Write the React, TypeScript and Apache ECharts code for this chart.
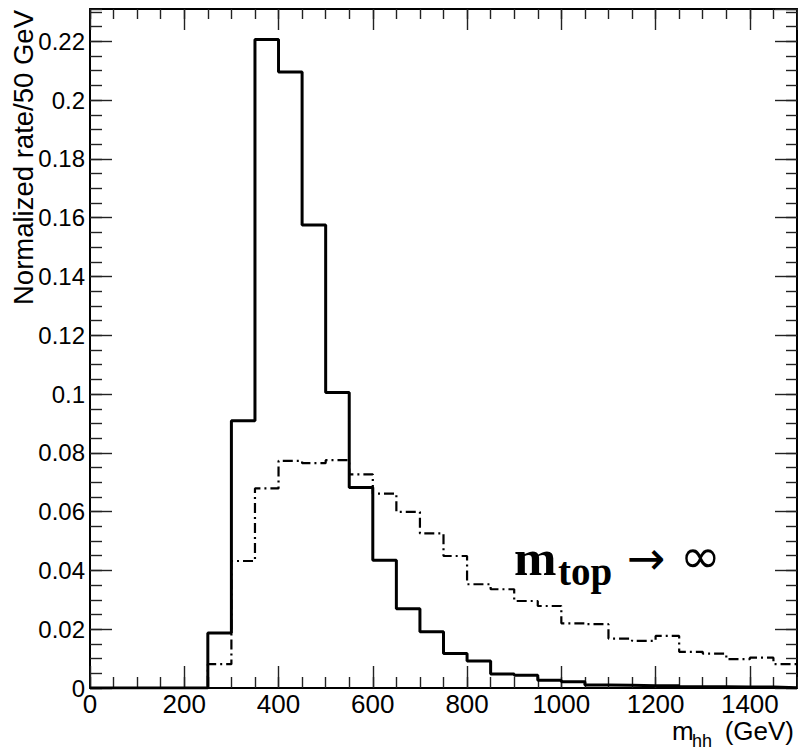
import React, { useEffect, useRef } from "react";
import * as echarts from "echarts";

// Lower edges of the 50 GeV bins (GeV)
const binLow = [
  0, 50, 100, 150, 200, 250, 300, 350, 400, 450, 500, 550, 600, 650, 700,
  750, 800, 850, 900, 950, 1000, 1050, 1100, 1150, 1200, 1250, 1300, 1350, 1400, 1450,
];
const binHigh = 1500;

// Solid histogram (full top-mass dependence)
const solidRate = [
  0, 0, 0, 0, 0, 0.0187, 0.0909, 0.2206, 0.2096, 0.1575, 0.1005, 0.0682, 0.0435, 0.027, 0.0191,
  0.0117, 0.0092, 0.0048, 0.0043, 0.0026, 0.0021, 0.001, 0.0009, 0.0008, 0.0008, 0.0004, 0.0004, 0.0003, 0.0003, 0.0001,
];

// Dash-dotted histogram (m_top -> infinity)
const infRate = [
  0, 0, 0, 0, 0, 0.0081, 0.0432, 0.0679, 0.0773, 0.0765, 0.0775, 0.0727, 0.0661, 0.0599, 0.0526,
  0.0449, 0.0353, 0.0336, 0.0296, 0.0279, 0.022, 0.0217, 0.0168, 0.016, 0.0177, 0.0123, 0.0117, 0.0098, 0.0103, 0.0081,
];

const xMin = 0;
const xMax = 1500;
const yMin = 0;
const yMax = 0.231;

function stepPoints(vals: number[]) {
  const pts: number[][] = binLow.map((x, i) => [x, vals[i]]);
  pts.push([binHigh, vals[vals.length - 1]]);
  return pts;
}

const FONT = '"Liberation Sans", Arial, sans-serif';
const SERIF = '"Liberation Serif", "DejaVu Serif", serif';
const TICK = "#222";

function xAxisDef(position: "bottom" | "top", interval: number, len: number, main: boolean) {
  return {
    type: "value",
    position,
    min: xMin,
    max: xMax,
    interval,
    axisLine: { show: main, onZero: false, lineStyle: { color: "#000", width: 2 } },
    axisTick: { show: true, inside: true, length: len, lineStyle: { color: TICK, width: 1.4 } },
    axisLabel: {
      show: main && position === "bottom",
      showMaxLabel: false,
      color: "#000",
      fontFamily: FONT,
      fontSize: 26,
      margin: 3,
      formatter: (v: number) => String(v),
    },
    splitLine: { show: false },
  };
}

function yAxisDef(position: "left" | "right", interval: number, len: number, main: boolean) {
  return {
    type: "value",
    position,
    min: yMin,
    max: yMax,
    interval,
    axisLine: { show: main, onZero: false, lineStyle: { color: "#000", width: 2 } },
    axisTick: { show: true, inside: true, length: len, lineStyle: { color: TICK, width: 1.4 } },
    axisLabel: {
      show: main && position === "left",
      showMaxLabel: false,
      color: "#000",
      fontFamily: FONT,
      fontSize: 24,
      margin: 5,
    },
    splitLine: { show: false },
  };
}

function txt(x: number, y: number, text: string, style: Record<string, any>) {
  return {
    type: "text",
    x,
    y,
    style: { text, fill: "#000", align: "left", verticalAlign: "middle", ...style },
  };
}

export default function App() {
  const ref = useRef<HTMLDivElement>(null);

  useEffect(() => {
    if (!ref.current) return;
    const chart = echarts.init(ref.current, undefined, { renderer: "svg" });
    const option = {
      animation: false,
      backgroundColor: "#fff",
      grid: { left: 90, right: 1, top: 9, bottom: 64, containLabel: false },
      xAxis: [
        xAxisDef("bottom", 200, 22, true),
        xAxisDef("bottom", 50, 11, false),
        xAxisDef("top", 200, 21, true),
        xAxisDef("top", 50, 10, false),
      ],
      yAxis: [
        yAxisDef("left", 0.02, 22, true),
        yAxisDef("left", 0.005, 12, false),
        yAxisDef("right", 0.02, 22, true),
        yAxisDef("right", 0.005, 11, false),
      ],
      series: [
        {
          name: "m_top -> inf",
          type: "line",
          step: "end",
          xAxisIndex: 0,
          yAxisIndex: 0,
          symbol: "none",
          data: stepPoints(infRate),
          lineStyle: { color: "#000", width: 2.2, type: [10, 4, 2, 4] },
          z: 2,
        },
        {
          name: "full",
          type: "line",
          step: "end",
          xAxisIndex: 0,
          yAxisIndex: 0,
          symbol: "none",
          data: stepPoints(solidRate),
          lineStyle: { color: "#000", width: 3 },
          z: 3,
        },
      ],
      graphic: [
        {
          type: "text",
          x: 23,
          y: 10,
          rotation: Math.PI / 2,
          style: {
            text: "Normalized rate/50 GeV",
            fontFamily: FONT,
            fontSize: 27.5,
            fill: "#000",
            align: "right",
            verticalAlign: "middle",
          },
        },
        txt(672, 731, "m", { fontFamily: FONT, fontSize: 26 }),
        txt(692, 741, "hh", { fontFamily: FONT, fontSize: 18 }),
        txt(794, 731, "(GeV)", { fontFamily: FONT, fontSize: 26, align: "right" }),
        txt(514, 558, "m", { fontFamily: SERIF, fontWeight: "bold", fontSize: 51 }),
        txt(558, 571, "top", { fontFamily: SERIF, fontWeight: "bold", fontSize: 39 }),
        txt(627, 558, "\u2192", { fontFamily: '"DejaVu Sans", sans-serif', fontSize: 46 }),
        txt(680, 556.5, "\u221E", { fontFamily: '"DejaVu Sans", sans-serif', fontSize: 49 }),
      ],
    };
    chart.setOption(option as any);
    return () => chart.dispose();
  }, []);

  return (
    <div
      ref={ref}
      style={{ position: "absolute", left: 0, top: 0, width: 798, height: 752, background: "#fff" }}
    />
  );
}
